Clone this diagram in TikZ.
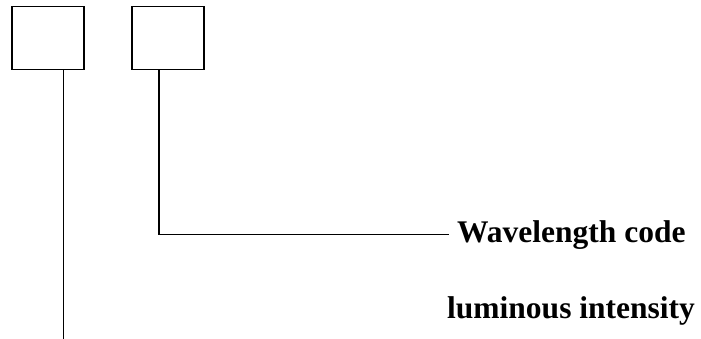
\documentclass[tikz,border=0pt]{standalone}
\usepackage{fontspec}
\setmainfont{Liberation Serif}
\usetikzlibrary{positioning, calc}

\begin{document}
\begin{tikzpicture}[x=1pt, y=-1pt, node distance=120 pt]
\tikzstyle{codebox} = [rectangle, minimum width=72 pt, minimum height=63 pt, inner sep=0 pt, draw=black, line width=1.4 pt]
\tikzstyle{caption} = [anchor=base west, inner xsep=8 pt, inner ysep=0 pt, font=\fontsize{31.5}{37}\selectfont\bfseries]
\useasboundingbox (0,0) rectangle (701,339);

\node (box1) [codebox] at (47.8,38.3) {};
\node (box2) [codebox, right of=box1] {};

\node (wave) [caption] at (449,242) {Wavelength code};
\node (lum)  [caption] at (439,318) {luminous intensity};

\coordinate (tap1) at ($(box1.south west)!0.71!(box1.south east)$);
\coordinate (tap2) at ($(box2.south west)!0.38!(box2.south east)$);
\coordinate (foot) at ($(tap1)+(0,272)$);

\draw [line width=1.4 pt] (tap1) -- (foot);
\draw [line width=1.4 pt] (tap2) |- (wave.west);

\end{tikzpicture}
\end{document}
